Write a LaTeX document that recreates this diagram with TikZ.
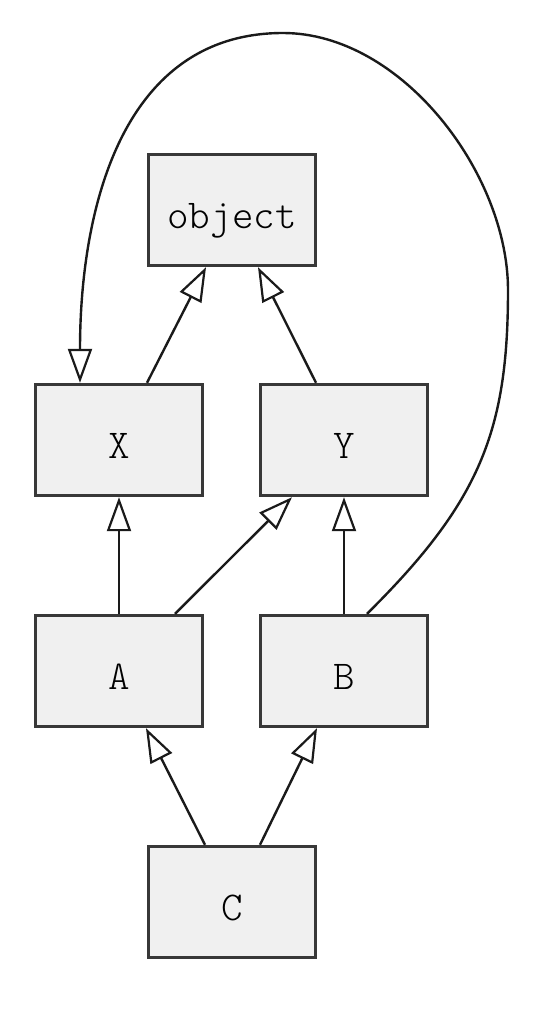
\documentclass[tikz,border=0pt]{standalone}
\usetikzlibrary{arrows.meta}
\definecolor{boxfill}{HTML}{F0F0F0}
\definecolor{boxline}{HTML}{383838}
\definecolor{edgeline}{HTML}{1A1A1A}
\begin{document}
\begin{tikzpicture}[x=1pt,y=-1pt,
  cls/.style={draw=boxline, line width=3.4pt, fill=boxfill,
    minimum width=167pt, minimum height=111pt, inner sep=0pt,
    text height=36pt, text depth=0pt,
    font=\fontfamily{lmtt}\fontseries{l}\fontsize{41}{41}\selectfont},
  inherit/.style={draw=edgeline, line width=2.4pt,
    -{Triangle[open, length=34pt, width=24pt, line width=2.2pt]}}]
\useasboundingbox (0,0) rectangle (540,1012);

% class boxes
\node[cls] (object) at (232,210) {object};
\node[cls] (X) at (119,440) {X};
\node[cls] (Y) at (344,440) {Y};
\node[cls] (A) at (119,671) {A};
\node[cls] (B) at (344,671) {B};
\node[cls] (C) at (232,902) {C};

% points the long B -> X edge passes through
\coordinate (loopE) at (508,290);
\coordinate (loopTop) at (283,33);

% inheritance edges
\draw[inherit] ([xshift=28pt]X.north) -- ([xshift=-26pt]object.south);
\draw[inherit] ([xshift=-28pt]Y.north) -- ([xshift=26pt]object.south);
\draw[inherit] (A.north) -- (X.south);
\draw[inherit] ([xshift=56pt]A.north) -- ([xshift=-52pt]Y.south);
\draw[inherit] (B.north) -- (Y.south);
\draw[inherit] ([xshift=-27pt]C.north) -- ([xshift=27pt]A.south);
\draw[inherit] ([xshift=28pt]C.north) -- ([xshift=-27pt]B.south);
\draw[inherit] ([xshift=23pt]B.north)
  .. controls (480,502) and (508,431) .. (loopE)
  .. controls (508,174) and (402,33) .. (loopTop)
  .. controls (119,33) and (80,215) .. ([xshift=-39pt]X.north);
\end{tikzpicture}
\end{document}
